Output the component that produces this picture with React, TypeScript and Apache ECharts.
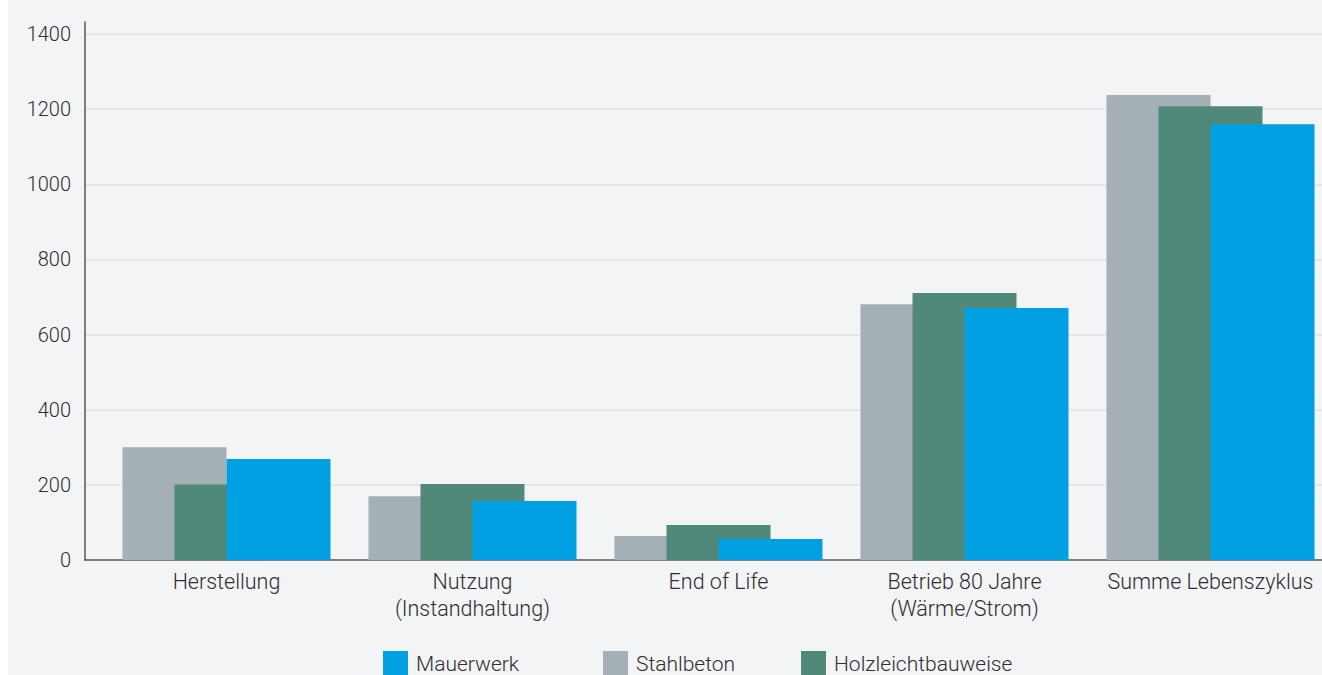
import React, { useEffect, useRef } from "react";
import * as echarts from "echarts";

const categories = [
  "Herstellung",
  "Nutzung\n(Instandhaltung)",
  "End of Life",
  "Betrieb 80 Jahre\n(Wärme/Strom)",
  "Summe Lebenszyklus",
];
const stahlbeton = [300, 170, 64, 681, 1238];
const holzleichtbau = [201, 202, 93, 711, 1208];
const mauerwerk = [269, 157, 56, 671, 1160];
const yTicks = [0, 200, 400, 600, 800, 1000, 1200, 1400];

const COLORS = {
  stahlbeton: "#A4B0B5",
  holz: "#50897A",
  mauerwerk: "#00A0E2",
  bg: "#F3F4F6",
  grid: "#DCE3E3",
  axis: "#5A5A5A",
  text: "#2E2E2E",
};

export default function App() {
  const ref = useRef<HTMLDivElement>(null);

  useEffect(() => {
    document.documentElement.style.overflow = "hidden";
    if (!ref.current) return;
    const chart = echarts.init(ref.current, null, { renderer: "svg" });
    const font = "Roboto";
    const yMax = 1432;
    const legendText = {
      color: COLORS.text,
      fontFamily: font,
      fontWeight: 300,
      fontSize: 21,
      padding: [15, 0, 0, 3],
    };
    const legendBase = {
      top: 651,
      padding: 0,
      itemWidth: 25,
      itemHeight: 25,
      icon: "rect",
      textStyle: legendText,
    };
    chart.setOption({
      animation: false,
      backgroundColor: COLORS.bg,
      textStyle: { fontFamily: font },
      grid: [
        { left: 77, top: 22, width: 1237, height: 538, outerBoundsMode: "none" },
        { left: 95.5, top: 22, width: 1230, height: 538, outerBoundsMode: "none" },
      ],
      legend: [
        { ...legendBase, data: ["Mauerwerk"], left: 375 },
        { ...legendBase, data: ["Stahlbeton"], left: 595 },
        { ...legendBase, data: ["Holzleichtbauweise"], left: 793 },
      ],
      xAxis: [
        {
          type: "category",
          gridIndex: 0,
          data: categories,
          axisLine: { show: true, lineStyle: { color: COLORS.axis, width: 1.5 } },
          axisTick: { show: false },
          axisLabel: { show: false },
          splitLine: { show: false },
        },
        {
          type: "category",
          gridIndex: 1,
          data: categories,
          axisLine: { show: false },
          axisTick: { show: false },
          axisLabel: {
            color: COLORS.text,
            fontFamily: font,
            fontWeight: 300,
            fontSize: 21.5,
            lineHeight: 27,
            margin: 8,
            interval: 0,
          },
        },
      ],
      yAxis: [
        {
          type: "value",
          gridIndex: 0,
          min: 0,
          max: yMax,
          interval: 200,
          axisLine: { show: true, lineStyle: { color: COLORS.axis, width: 1.5 } },
          axisTick: { show: false },
          axisLabel: {
            color: COLORS.text,
            fontFamily: font,
            fontWeight: 300,
            fontSize: 20,
            margin: 14,
            showMaxLabel: false,
            formatter: (v: number) => (yTicks.includes(v) ? String(v) : ""),
          },
          splitLine: {
            show: true,
            showMaxLine: false,
            lineStyle: { color: COLORS.grid, width: 1.5 },
          },
        },
        {
          type: "value",
          gridIndex: 1,
          min: 0,
          max: yMax,
          interval: 200,
          show: false,
          splitLine: { show: false },
        },
      ],
      series: [
        {
          name: "Stahlbeton",
          type: "bar",
          xAxisIndex: 1,
          yAxisIndex: 1,
          data: stahlbeton,
          barWidth: 104,
          barGap: "-50%",
          itemStyle: { color: COLORS.stahlbeton },
        },
        {
          name: "Holzleichtbauweise",
          type: "bar",
          xAxisIndex: 1,
          yAxisIndex: 1,
          data: holzleichtbau,
          barWidth: 104,
          barGap: "-50%",
          itemStyle: { color: COLORS.holz },
        },
        {
          name: "Mauerwerk",
          type: "bar",
          xAxisIndex: 1,
          yAxisIndex: 1,
          data: mauerwerk,
          barWidth: 104,
          barGap: "-50%",
          itemStyle: { color: COLORS.mauerwerk },
        },
      ],
    });
    return () => chart.dispose();
  }, []);

  return (
    <div
      ref={ref}
      style={{ position: "fixed", left: 8, top: 0, width: 1340, height: 700 }}
    />
  );
}
